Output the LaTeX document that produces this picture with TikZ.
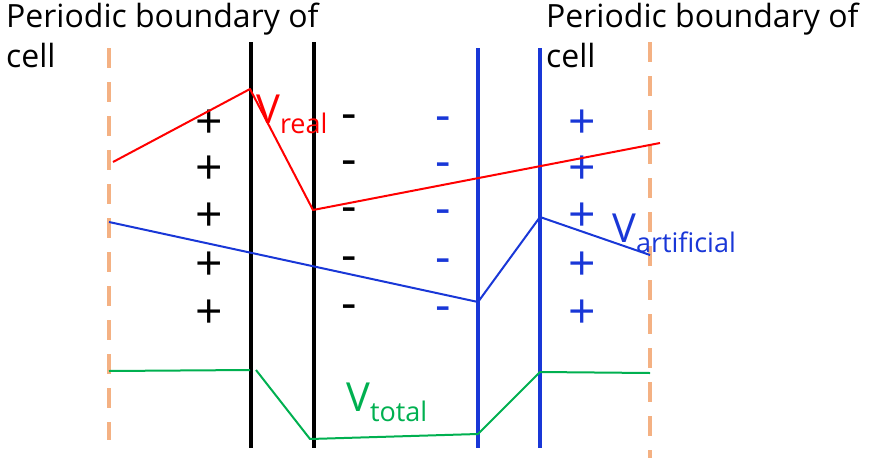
\documentclass[tikz,border=0pt]{standalone}
\usepackage{fontspec}
\setmainfont{Open Sans}
\usetikzlibrary{positioning}

\definecolor{cellorange}{RGB}{244,177,131}
\definecolor{wallblue}{RGB}{25,55,215}
\definecolor{totalgreen}{RGB}{0,176,80}

\newcommand{\potname}[1]{V\raisebox{-10pt}{\fontsize{27}{27}\selectfont #1}}

\begin{document}
\begin{tikzpicture}[x=1pt, y=-1pt,
    boundary/.style={cellorange, line width=4pt, dash pattern=on 20pt off 14pt},
    realwall/.style={black, line width=4pt},
    fakewall/.style={wallblue, line width=4pt},
    potential/.style={line width=2pt, line join=round},
    charge/.style={font=\fontsize{48}{48}\selectfont, inner sep=0pt},
    celltitle/.style={font=\fontsize{32}{40}\selectfont, align=left, anchor=base west, inner sep=0pt},
    potlabel/.style={font=\fontsize{40}{40}\selectfont, anchor=base west, inner sep=0pt},
]
\useasboundingbox (0,0) rectangle (870,458);

% Titles (base = baseline of the last line)
\node[celltitle] (titleL) at (6,67) {Periodic boundary of\\cell};
\node[celltitle] (titleR) at (546,67) {Periodic boundary of\\cell};

% Cell boundaries
\coordinate (bL1) at (109,48);  \coordinate (bL2) at (109,440);
\coordinate (bR1) at (650,42);  \coordinate (bR2) at (650,458);
\draw[boundary] (bL1) -- (bL2);
\draw[boundary] (bR1) -- (bR2);

% Real walls (black) and artificial walls (blue)
\foreach \wx/\wn in {251/wA, 314/wB} {
    \coordinate (\wn top) at (\wx,42);
    \coordinate (\wn bot) at (\wx,448);
    \draw[realwall] (\wn top) -- (\wn bot);
}
\foreach \wx/\wn in {478/wC, 540/wD} {
    \coordinate (\wn top) at (\wx,48);
    \coordinate (\wn bot) at (\wx,448);
    \draw[fakewall] (\wn top) -- (\wn bot);
}

% Charges
\foreach \cy [count=\i] in {124,170,217,266,314} {
    \node[charge] (pk\i) at (209,\cy) {+};
    \node[charge] (mk\i) at (349,\cy-2) {-};
    \node[charge, wallblue] (mb\i) at (443,\cy) {-};
    \node[charge, wallblue] (pb\i) at (582,\cy) {+};
}

% V real
\coordinate (r1) at (113,162);
\coordinate (r2) at (250,89);
\coordinate (r3) at (313,210);
\coordinate (r4) at (660,143);
\draw[potential, red] (r1) -- (r2) -- (r3) -- (r4);
\node[potlabel, red] (vreal) at (256,123) {\potname{real}};

% V artificial
\coordinate (a1) at (109,222);
\coordinate (a2) at (478,302);
\coordinate (a3) at (540,217);
\coordinate (a4) at (650,255);
\draw[potential, wallblue] (a1) -- (a2) -- (a3) -- (a4);
\node[potlabel, wallblue] (vart) at (612,242) {\potname{artificial}};

% V total
\coordinate (t1) at (109,371);
\coordinate (t2) at (250,370);
\coordinate (t3) at (256,370);
\coordinate (t4) at (310,439);
\coordinate (t5) at (478,434);
\coordinate (t6) at (540,372);
\coordinate (t7) at (650,373);
\draw[potential, totalgreen] (t1) -- (t2);
\draw[potential, totalgreen] (t3) -- (t4) -- (t5) -- (t6) -- (t7);
\node[potlabel, totalgreen] (vtot) at (346,411) {\potname{total}};

\end{tikzpicture}
\end{document}
